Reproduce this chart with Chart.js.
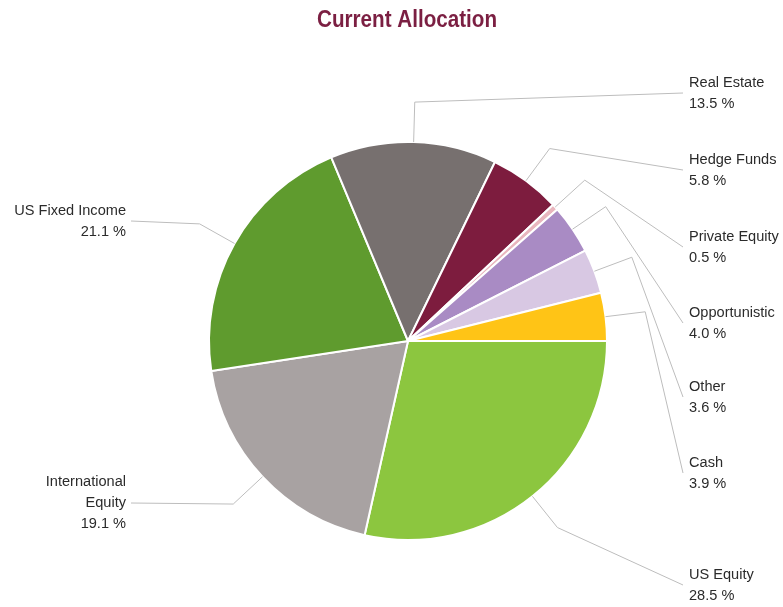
<!DOCTYPE html>
<html>
<head>
<meta charset="utf-8">
<script src="https://cdn.jsdelivr.net/npm/chart.js@4"></script>
<style>
  body { margin: 0; background: #fff; }
  canvas { display: block; }
</style>
</head>
<body>
<canvas id="chartAllocation" width="783" height="607"></canvas>
<script>
// data
const categories = ['US Equity', 'International Equity', 'US Fixed Income', 'Real Estate',
  'Hedge Funds', 'Private Equity', 'Opportunistic', 'Other', 'Cash'];
const values = [28.5, 19.1, 21.1, 13.5, 5.8, 0.5, 4.0, 3.6, 3.9];
const colors = ['#8cc63f', '#a8a2a2', '#5f9b2e', '#77706f', '#7d1c3e',
  '#e9b6be', '#a98bc4', '#d8c8e3', '#ffc416'];

// where each label block sits (side, y of block centre)
const labelPlaces = [
  { side: 'right', y: 585 },
  { side: 'left', y: 503 },
  { side: 'left', y: 221 },
  { side: 'right', y: 93 },
  { side: 'right', y: 170 },
  { side: 'right', y: 247 },
  { side: 'right', y: 323 },
  { side: 'right', y: 397 },
  { side: 'right', y: 473 }
];

const FONT = '15.5px "Liberation Sans", Arial, sans-serif';
const SQUEEZE = 0.94;
const LINE_H = 21;

function drawText(ctx, text, x, y, align) {
  ctx.save();
  ctx.translate(x, y);
  ctx.scale(SQUEEZE, 1);
  ctx.textAlign = align;
  ctx.fillText(text, 0, 0);
  ctx.restore();
}

const leaderLabels = {
  id: 'leaderLabels',
  afterDraw(chart) {
    const ctx = chart.ctx;
    const arcs = chart.getDatasetMeta(0).data;
    ctx.save();
    ctx.font = FONT;
    ctx.textBaseline = 'middle';
    arcs.forEach((arc, i) => {
      const mid = (arc.startAngle + arc.endAngle) / 2;
      const r = arc.outerRadius;
      const x0 = arc.x + Math.cos(mid) * r;
      const y0 = arc.y + Math.sin(mid) * r;
      const x1 = arc.x + Math.cos(mid) * (r + 40);
      const y1 = arc.y + Math.sin(mid) * (r + 40);
      const place = labelPlaces[i];
      const right = place.side === 'right';
      const x2 = right ? 683 : 131;

      ctx.strokeStyle = '#bdbdbd';
      ctx.lineWidth = 1;
      ctx.beginPath();
      ctx.moveTo(x0, y0);
      ctx.lineTo(x1, y1);
      ctx.lineTo(x2, place.y);
      ctx.stroke();

      // long names on the left side go on two lines
      let lines = [categories[i]];
      if (!right && ctx.measureText(categories[i]).width * SQUEEZE > 118) {
        lines = categories[i].split(' ');
      }
      lines.push(values[i].toFixed(1) + ' %');
      const top = place.y - (lines.length - 1) * LINE_H / 2;
      ctx.fillStyle = '#2b2b2b';
      lines.forEach((t, k) => {
        drawText(ctx, t, right ? 689 : 126, top + k * LINE_H, right ? 'left' : 'right');
      });
    });

    // title
    ctx.font = 'bold 24px "Liberation Sans", Arial, sans-serif';
    ctx.fillStyle = '#7b1f42';
    ctx.textBaseline = 'alphabetic';
    ctx.save();
    ctx.translate(407, 27);
    ctx.scale(0.86, 1);
    ctx.textAlign = 'center';
    ctx.fillText('Current Allocation', 0, 0);
    ctx.restore();
    ctx.restore();
  }
};

const ctxAlloc = document.getElementById('chartAllocation').getContext('2d');
new Chart(ctxAlloc, {
  type: 'pie',
  data: {
    labels: categories,
    datasets: [{
      data: values,
      backgroundColor: colors,
      borderColor: '#ffffff',
      borderWidth: 2
    }]
  },
  options: {
    responsive: false,
    animation: false,
    rotation: 90,
    radius: 199,
    layout: {
      padding: { left: 208, right: 175, top: 141, bottom: 66 }
    },
    plugins: {
      legend: { display: false },
      tooltip: { enabled: false }
    }
  },
  plugins: [leaderLabels]
});
</script>
</body>
</html>
